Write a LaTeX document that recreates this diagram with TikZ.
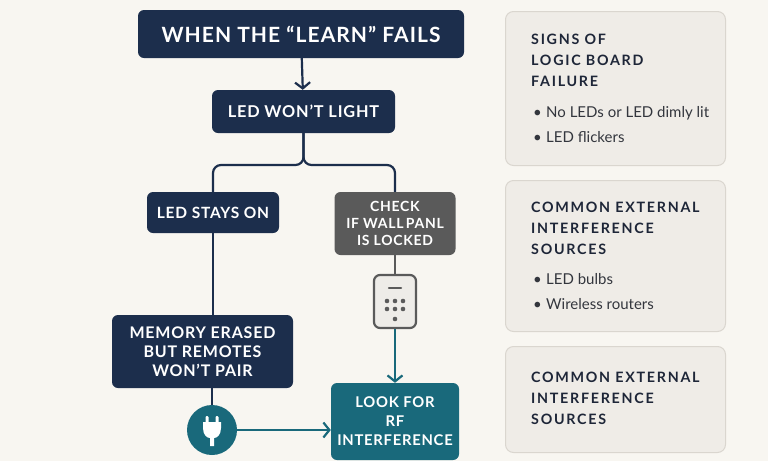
\documentclass[tikz,border=0pt]{standalone}
\usepackage{fontspec}
\setmainfont{Lato}
\newfontfamily\capsfont{Lato}[LetterSpace=5]
\newfontfamily\headfont{Lato}[LetterSpace=12]
\usetikzlibrary{arrows.meta,positioning}
\definecolor{navy}{HTML}{1C2E4C}
\definecolor{slate}{HTML}{5A5A5A}
\definecolor{teal}{HTML}{19697B}
\definecolor{paper}{HTML}{F8F6F1}
\definecolor{panel}{HTML}{EFECE7}
\definecolor{panelline}{HTML}{DAD6CF}
\definecolor{ink}{HTML}{1E2638}
\definecolor{bodyink}{HTML}{33363D}
\definecolor{keypad}{HTML}{EEECE8}
\tikzstyle{flow}=[rectangle, rounded corners=6, text=white, align=center, inner sep=0pt, font=\capsfont\bfseries\fontsize{15.5}{19}\selectfont]
\tikzstyle{navybox}=[flow, fill=navy]
\tikzstyle{graybox}=[flow, fill=slate, font=\capsfont\bfseries\fontsize{14}{17}\selectfont]
\tikzstyle{tealbox}=[flow, fill=teal]
\tikzstyle{link}=[line width=2.2pt, draw=navy]
\tikzstyle{graylink}=[line width=2.2pt, draw=slate]
\tikzstyle{teallink}=[line width=2.2pt, draw=teal]
\tikzstyle{sidebox}=[rectangle, rounded corners=8, fill=panel, draw=panelline, line width=1pt, minimum width=220, anchor=north west]
\tikzstyle{sidehead}=[anchor=north west, inner sep=0pt, align=left, text=ink, font=\headfont\bfseries\fontsize{14.3}{21}\selectfont]
\tikzstyle{sidelist}=[anchor=north west, inner sep=0pt, align=left, text=bodyink, font=\fontsize{15}{25}\selectfont]
\newcommand{\dotitem}{\makebox[13pt][l]{•}}

\begin{document}
\begin{tikzpicture}[x=1pt,y=-1pt,>={Straight Barb[length=6pt,width=15pt]}]
	\fill[paper] (0,0) rectangle (768,461);
	\useasboundingbox (0,0) rectangle (768,461);
	
	\node[navybox,minimum width=326,minimum height=48,font=\capsfont\bfseries\fontsize{21}{25}\selectfont](title) at (301,34){WHEN THE “LEARN” FAILS};
	\node[navybox,minimum width=183,minimum height=43,font=\capsfont\bfseries\fontsize{16.3}{19}\selectfont](light) at (303.5,111.5){LED WON’T LIGHT};
	\draw[link,->] (title) -- (light);
	
	\node[navybox,minimum width=132,minimum height=41](stay) at (213,212.5){LED STAYS ON};
	\node[graybox,minimum width=121,minimum height=63](check) at (395,223.5){CHECK\\IF WALL\,PANL\\IS LOCKED};
	\coordinate (split) at (303.5,165);
	\draw[link,rounded corners=8] (light.south) |- (split -| stay.north) -- (stay.north);
	\draw[link,rounded corners=8] (light.south) |- (split -| check.north) -- (check.north);
	
	\node[navybox,minimum width=181,minimum height=73,font=\capsfont\bfseries\fontsize{16}{19}\selectfont](mem) at (202.5,351.5){MEMORY ERASED\\BUT REMOTES\\WON’T PAIR};
	\draw[link] (stay) -- (stay |- mem.north);
	
	\node[rectangle,rounded corners=6,draw=slate,fill=keypad,line width=2.2pt,minimum width=42,minimum height=53](remote) at (395,301.5){};
	\draw[slate,line width=2.5pt,line cap=round] (remote.center) ++(-6,-13.5) -- ++(12,0);
	\foreach \dx in {-8,0,8}
		\foreach \dy in {-0.5,7.5}
			\fill[slate] (remote.center) ++(\dx,\dy) circle (2.3);
	\fill[slate] (remote.center) ++(0,17.5) circle (2.3);
	\draw[graylink] (check) -- (remote);
	
	\node[tealbox,minimum width=128,minimum height=77,font=\capsfont\bfseries\fontsize{14.8}{19}\selectfont](look) at (395,421.5){LOOK FOR\\RF\\INTERFERENCE};
	\draw[teallink,->] (remote) -- (look);
	
	\node[circle,fill=teal,minimum size=50,inner sep=0pt](plug) at (212,430){};
	\draw[link] (plug |- mem.south) -- (plug);
	\fill[white,rounded corners=1] (205.5,416) rectangle (208.5,424) (215.5,416) rectangle (218.5,424);
	\fill[white] (203,422) -- (221,422) -- (221,428) .. controls (221,435) and (217,438) .. (214,438) -- (214,446) -- (210,446) -- (210,438) .. controls (207,438) and (203,435) .. (203,428) -- cycle;
	\draw[teallink,->] (plug) -- (plug -| look.west);
	
	\node[sidebox,minimum height=154](signs) at (505,11){};
	\node[sidehead](signshead) at (531,34){SIGNS OF\\LOGIC BOARD\\FAILURE};
	\node[sidelist](signslist) at (533,106){\dotitem No LEDs or LED dimly lit\\\dotitem LED flickers};
	
	\node[sidebox,minimum height=151](noise) at (505,180){};
	\node[sidehead](noisehead) at (531,202){COMMON EXTERNAL\\INTERFERENCE\\SOURCES};
	\node[sidelist](noiselist) at (533,273){\dotitem LED bulbs\\\dotitem Wireless routers};
	
	\node[sidebox,minimum height=106](extra) at (505,346){};
	\node[sidehead](extrahead) at (531,372){COMMON EXTERNAL\\INTERFERENCE\\SOURCES};
\end{tikzpicture}
\end{document}
